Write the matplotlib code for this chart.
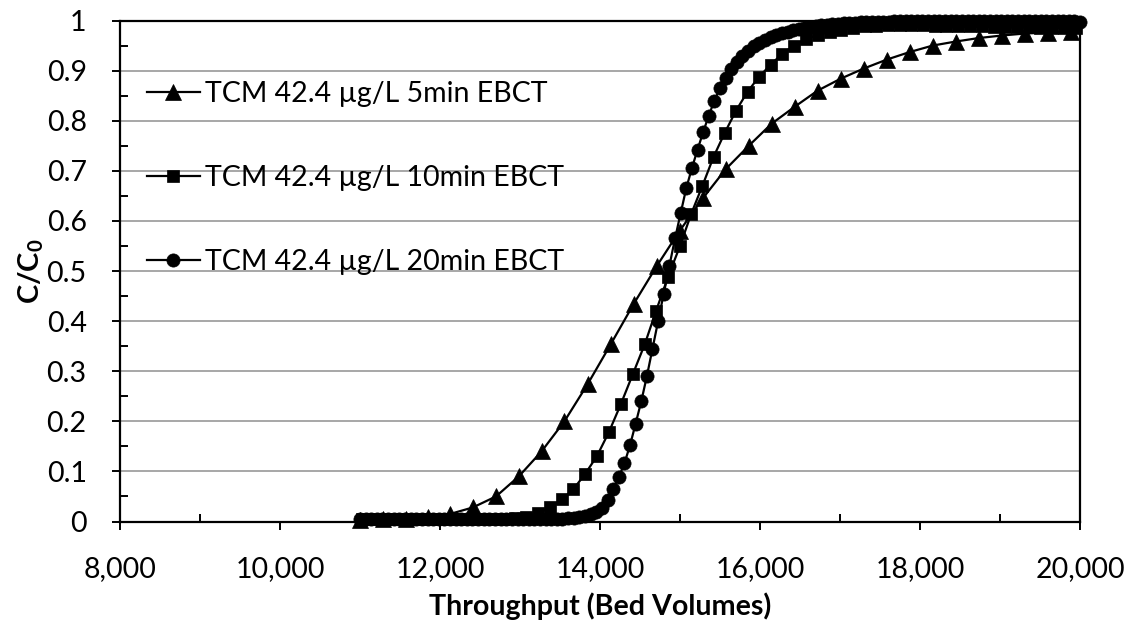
import matplotlib
matplotlib.use('Agg')
import matplotlib.pyplot as plt
from matplotlib.ticker import FixedLocator, MultipleLocator

plt.rcParams['font.family'] = ['Lato', 'DejaVu Sans']
plt.rcParams['mathtext.fontset'] = 'custom'
plt.rcParams['mathtext.rm'] = 'Lato'
plt.rcParams['mathtext.bf'] = 'Lato:bold'

# ---------------- data ----------------
labels = ['TCM 42.4 µg/L 5min EBCT', 'TCM 42.4 µg/L 10min EBCT', 'TCM 42.4 µg/L 20min EBCT']

bv_5min = [11000, 11285, 11570, 11855, 12125, 12410, 12700, 12985, 13270, 13555,
           13845, 14135, 14420, 14710, 14995, 15285, 15570, 15860, 16145, 16435,
           16720, 17010, 17295, 17585, 17870, 18160, 18445, 18735, 19020, 19310,
           19595, 19885]
c_5min = [0.003, 0.004, 0.005, 0.008, 0.015, 0.028, 0.05, 0.09, 0.14, 0.20,
          0.274, 0.354, 0.434, 0.51, 0.58, 0.645, 0.703, 0.75, 0.794, 0.828,
          0.86, 0.884, 0.904, 0.922, 0.937, 0.95, 0.958, 0.965, 0.97, 0.974,
          0.976, 0.978]

bv_10min = [11030, 11175, 11320, 11470, 11615, 11760, 11910, 12055, 12200, 12350,
            12495, 12640, 12790, 12935, 13080, 13230, 13375, 13525, 13665, 13810,
            13960, 14110, 14260, 14410, 14560, 14700, 14850, 15000, 15140, 15280,
            15420, 15560, 15700, 15845, 15990, 16135, 16280, 16430, 16575, 16720,
            16870, 17015, 17160, 17310, 17455, 17600, 17745, 17890, 18040, 18185,
            18330, 18480, 18625, 18770, 18920, 19065, 19210, 19360, 19505, 19650,
            19800, 19945]
c_10min = [0.005, 0.005, 0.005, 0.005, 0.005, 0.005, 0.005, 0.005, 0.005, 0.005,
           0.005, 0.005, 0.005, 0.006, 0.009, 0.016, 0.028, 0.044, 0.064, 0.094,
           0.13, 0.178, 0.234, 0.294, 0.354, 0.42, 0.488, 0.55, 0.614, 0.67,
           0.728, 0.776, 0.82, 0.858, 0.888, 0.912, 0.934, 0.95, 0.963, 0.971,
           0.977, 0.982, 0.986, 0.989, 0.99, 0.991, 0.991, 0.991, 0.991, 0.99,
           0.99, 0.99, 0.989, 0.989, 0.988, 0.988, 0.987, 0.987, 0.986, 0.986,
           0.985, 0.985]

bv_20min = [11000, 11070, 11141, 11211, 11281, 11352, 11422, 11492, 11563, 11633,
            11703, 11773, 11844, 11914, 11984, 12055, 12125, 12195, 12266, 12336,
            12406, 12477, 12547, 12617, 12688, 12758, 12828, 12898, 12969, 13039,
            13109, 13180, 13250, 13320, 13391, 13461, 13531, 13602, 13672, 13742,
            13813, 13883, 13953, 14023, 14094, 14164, 14234, 14305, 14375, 14445,
            14516, 14586, 14656, 14727, 14797, 14867, 14938, 15008, 15078, 15148,
            15219, 15289, 15359, 15430, 15500, 15570, 15641, 15711, 15781, 15852,
            15922, 15992, 16063, 16133, 16203, 16273, 16344, 16414, 16484, 16555,
            16625, 16695, 16766, 16836, 16906, 16977, 17047, 17117, 17188, 17258,
            17328, 17398, 17469, 17539, 17609, 17680, 17750, 17820, 17891, 17961,
            18031, 18102, 18172, 18242, 18313, 18383, 18453, 18523, 18594, 18664,
            18734, 18805, 18875, 18945, 19016, 19086, 19156, 19227, 19297, 19367,
            19438, 19508, 19578, 19648, 19719, 19789, 19859, 19930, 20000]
c_20min = [0.004, 0.004, 0.004, 0.004, 0.004, 0.004, 0.004, 0.004, 0.004, 0.004,
           0.004, 0.004, 0.004, 0.004, 0.004, 0.004, 0.004, 0.004, 0.004, 0.004,
           0.004, 0.004, 0.004, 0.004, 0.004, 0.004, 0.004, 0.004, 0.004, 0.004,
           0.004, 0.005, 0.005, 0.005, 0.005, 0.005, 0.005, 0.006, 0.007, 0.009,
           0.011, 0.014, 0.019, 0.027, 0.042, 0.064, 0.088, 0.116, 0.152, 0.195,
           0.24, 0.29, 0.345, 0.40, 0.455, 0.51, 0.565, 0.615, 0.665, 0.705,
           0.742, 0.777, 0.81, 0.84, 0.865, 0.885, 0.903, 0.917, 0.929, 0.94,
           0.949, 0.956, 0.962, 0.967, 0.971, 0.975, 0.978, 0.981, 0.984, 0.986,
           0.988, 0.99, 0.991, 0.992, 0.993, 0.994, 0.995, 0.996, 0.996, 0.997,
           0.997, 0.998, 0.998, 0.998, 0.998, 0.999, 0.999, 0.999, 0.999, 0.999,
           0.999, 0.999, 0.999, 0.999, 0.999, 0.999, 0.999, 0.999, 0.999, 0.999,
           0.999, 0.999, 0.999, 0.999, 0.999, 0.999, 0.999, 0.999, 0.999, 0.999,
           0.999, 0.999, 0.999, 0.999, 0.999, 0.999, 0.999, 0.999, 0.998]

x_ticks = [8000, 10000, 12000, 14000, 16000, 18000, 20000]
x_ticklabels = ['8,000', '10,000', '12,000', '14,000', '16,000', '18,000', '20,000']
y_ticks = [0, 0.1, 0.2, 0.3, 0.4, 0.5, 0.6, 0.7, 0.8, 0.9, 1.0]
y_ticklabels = ['0', '0.1', '0.2', '0.3', '0.4', '0.5', '0.6', '0.7', '0.8', '0.9', '1']

# ---------------- figure ----------------
W, H = 1126, 625
fig = plt.figure(figsize=(W / 100, H / 100), dpi=100)
ax = fig.add_axes([120 / W, 103.5 / H, 960 / W, 501 / H])

style = dict(color='black', lw=1.6, mfc='black', mec='black', mew=0.5, clip_on=False)
ax.plot(bv_5min, c_5min, marker='^', ms=11.5, label=labels[0], zorder=3, **style)
ax.plot(bv_10min, c_10min, marker='s', ms=8.5, label=labels[1], zorder=4, **style)
ax.plot(bv_20min, c_20min, marker='o', ms=9.5, label=labels[2], zorder=5, **style)

ax.set_xlim(8000, 20000)
ax.set_ylim(0, 1)

ax.xaxis.set_major_locator(FixedLocator(x_ticks))
ax.set_xticklabels(x_ticklabels)
ax.xaxis.set_minor_locator(MultipleLocator(1000))
ax.yaxis.set_major_locator(FixedLocator(y_ticks))
ax.set_yticklabels(y_ticklabels)
ax.yaxis.set_minor_locator(MultipleLocator(0.05))

ax.tick_params(which='major', direction='out', length=6, width=1.4, labelsize=20.5, color='black')
ax.tick_params(axis='y', which='major', pad=18)
ax.tick_params(axis='x', which='major', pad=19)
ax.tick_params(which='minor', direction='in', length=6, width=1.4, color='black')

ax.yaxis.grid(True, which='major', color='#a0a0a0', lw=1.3)
ax.set_axisbelow(True)

for s in ['left', 'bottom', 'right', 'top']:
    ax.spines[s].set_linewidth(1.6)
    ax.spines[s].set_color('black')

ax.set_xlabel('Throughput (Bed Volumes)', fontsize=20.6, fontweight='bold')
ax.xaxis.set_label_coords(0.5, -0.142)
ax.set_ylabel(r'$\mathbf{C/C_0}$', fontsize=21)
ax.yaxis.set_label_coords(-0.077, 0.5)

leg = ax.legend(loc='upper left', bbox_to_anchor=(0.028, 0.879), frameon=False,
                fontsize=20.5, handlelength=1.85, handletextpad=0.18,
                labelspacing=2.04, borderpad=0, borderaxespad=0)

fig.savefig('out.png', dpi=100)
